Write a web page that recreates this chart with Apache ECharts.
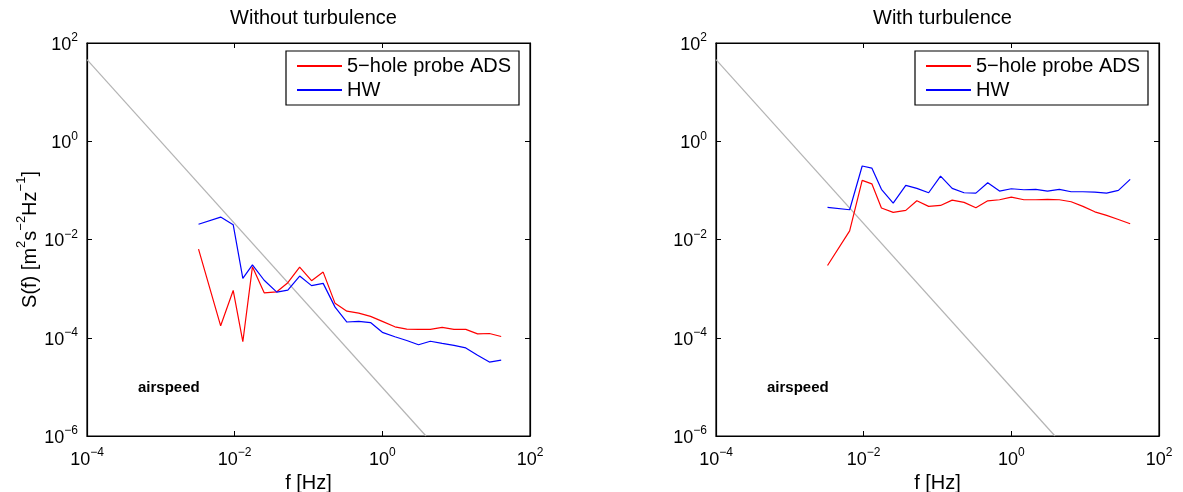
<!DOCTYPE html>
<html>
<head>
<meta charset="utf-8">
<script src="https://cdn.jsdelivr.net/npm/echarts@6/dist/echarts.min.js"></script>
<style>
  html, body { margin: 0; background: #fff; }
  #chart { width: 1183px; height: 492px; }
</style>
</head>
<body>
<div id="chart"></div>
<script>
// frequency bins [Hz], shared by both panels
const freq = [0.00324, 0.00646, 0.00955, 0.0129, 0.0174, 0.0251, 0.0372, 0.0525, 0.0759, 0.110,
  0.158, 0.229, 0.331, 0.479, 0.692, 1.0, 1.48, 2.14, 3.09, 4.47, 6.46, 9.33, 13.5, 19.5, 28.2, 40.7]

// without turbulence
const adsCalm = [0.00638, 0.000175, 0.000918, 0.000083, 0.00278, 0.000822, 0.000861, 0.00132, 0.00274, 0.00145,
  0.00217, 0.000501, 0.000348, 0.000316, 0.000272, 0.000215, 0.000167, 0.000150, 0.000148, 0.000148,
  0.000162, 0.000148, 0.000148, 0.000120, 0.000122, 0.000106]
const hwCalm = [0.0204, 0.0286, 0.0200, 0.00162, 0.00305, 0.00148, 0.000851, 0.000933, 0.00180, 0.00115,
  0.00128, 0.000420, 0.000209, 0.000215, 0.000204, 0.000129, 0.000105, 0.000088, 0.000072, 0.000085,
  0.000077, 0.000070, 0.000062, 0.000044, 0.000032, 0.000035]

// with turbulence
const adsTurb = [0.00296, 0.0150, 0.160, 0.136, 0.0437, 0.0356, 0.0391, 0.0614, 0.0472, 0.0494,
  0.0634, 0.0569, 0.0442, 0.0614, 0.0644, 0.0731, 0.0644, 0.0644, 0.0655, 0.0644,
  0.0586, 0.0472, 0.0366, 0.0309, 0.0256, 0.0209]
const hwTurb = [0.0450, 0.0403, 0.313, 0.284, 0.105, 0.0551, 0.126, 0.110, 0.0895, 0.195,
  0.110, 0.0895, 0.0881, 0.143, 0.0968, 0.108, 0.103, 0.105, 0.0968, 0.105,
  0.0938, 0.0938, 0.0923, 0.0881, 0.100, 0.167]

// -5/3 reference line, end points
const refF = [1e-4, 3.9]
const refS = [46, 1e-6]

const seriesNames = ['5\u2212hole probe ADS', 'HW']
const panelTitles = ['Without turbulence', 'With turbulence']

const font = 'Liberation Sans, Arial, Helvetica, sans-serif'
const pairs = (xs, ys) => xs.map((x, i) => [x, ys[i]])

const powLabel = v => {
  const e = Math.round(Math.log10(v))
  return '{b|10}{s|' + (e < 0 ? '\u2212' + (-e) : e) + '}'
}
const powRich = {
  b: { fontSize: 18, fontFamily: font, color: '#000', lineHeight: 22, verticalAlign: 'bottom' },
  s: { fontSize: 12, fontFamily: font, color: '#000', lineHeight: 22, verticalAlign: 'top' }
}

const grids = [
  { left: 87, top: 43, width: 443, height: 393 },
  { left: 716, top: 43, width: 443, height: 393 }
]

const logAxis = (extra) => Object.assign({
  type: 'log',
  logBase: 10,
  interval: 2,
  axisLine: { show: true, lineStyle: { color: '#000', width: 1.2 } },
  axisTick: { show: true, inside: true, length: 5, lineStyle: { color: '#000' } },
  splitLine: { show: false },
  minorTick: { show: false }
}, extra)

const xAxis = []
const yAxis = []
grids.forEach((g, i) => {
  xAxis.push(logAxis({
    gridIndex: i, position: 'bottom', min: 1e-4, max: 100,
    axisLabel: { formatter: powLabel, rich: powRich, margin: 11, showMinLabel: true, showMaxLabel: true },
    name: 'f [Hz]', nameLocation: 'middle', nameGap: 35,
    nameTextStyle: { fontSize: 20, fontFamily: font, color: '#000' }
  }))
  xAxis.push(logAxis({
    gridIndex: i, position: 'top', min: 1e-4, max: 100, axisLabel: { show: false }
  }))
  yAxis.push(logAxis({
    gridIndex: i, position: 'left', min: 1e-6, max: 100,
    axisLabel: { formatter: powLabel, rich: powRich, margin: 9, showMinLabel: true, showMaxLabel: true },
    name: i === 0 ? '{a|S(f) [m}{s|2}{a|s}{s|\u22122}{a|Hz}{s|\u22121}{a|]}' : '',
    nameLocation: 'middle', nameGap: 42, nameRotate: 90,
    nameTextStyle: {
      rich: {
        a: { fontSize: 20, fontFamily: font, color: '#000', lineHeight: 25, verticalAlign: 'bottom' },
        s: { fontSize: 13, fontFamily: font, color: '#000', lineHeight: 25, verticalAlign: 'top' }
      }
    }
  }))
  yAxis.push(logAxis({
    gridIndex: i, position: 'right', min: 1e-6, max: 100, axisLabel: { show: false }
  }))
})

const lineSeries = (name, data, color, panel) => ({
  name, type: 'line', data,
  xAxisIndex: panel * 2, yAxisIndex: panel * 2,
  symbol: 'none', animation: false,
  lineStyle: { color, width: 1.2 },
  itemStyle: { color }
})

const series = []
;[[adsCalm, hwCalm], [adsTurb, hwTurb]].forEach(([ads, hw], p) => {
  series.push(Object.assign(lineSeries('ref' + p, pairs(refF, refS), '#b4b4b4', p), { silent: true }))
  series.push(lineSeries(seriesNames[0], pairs(freq, ads), '#ff0000', p))
  series.push(lineSeries(seriesNames[1], pairs(freq, hw), '#0000ff', p))
})

const title = []
panelTitles.forEach((t, i) => {
  title.push({
    text: t, left: grids[i].left + grids[i].width / 2, top: 3, textAlign: 'center',
    textStyle: { fontSize: 20, fontWeight: 'normal', fontFamily: font, color: '#000' }
  })
  title.push({
    text: 'airspeed', left: grids[i].left + 46, top: 375,
    textStyle: { fontSize: 15, fontWeight: 'bold', fontFamily: font, color: '#000' }
  })
})

const legend = [286, 915].map(left => ({
  data: seriesNames,
  left, top: 51,
  orient: 'vertical',
  itemWidth: 45, itemHeight: 20, itemGap: 4,
  padding: [5, 8, 5, 10],
  borderColor: '#000', borderWidth: 1.2, backgroundColor: '#fff',
  itemStyle: { opacity: 0 },
  textStyle: { fontSize: 20, fontFamily: font, color: '#000' },
  selectedMode: false
}))

const chart = echarts.init(document.getElementById('chart'))
chart.setOption({
  backgroundColor: '#fff',
  animation: false,
  title,
  legend,
  grid: grids.map(g => Object.assign({
    show: true, borderColor: '#000', borderWidth: 1.2, containLabel: false, outerBoundsMode: 'none'
  }, g)),
  xAxis,
  yAxis,
  series
})
window.addEventListener('resize', () => chart.resize())
</script>
</body>
</html>
